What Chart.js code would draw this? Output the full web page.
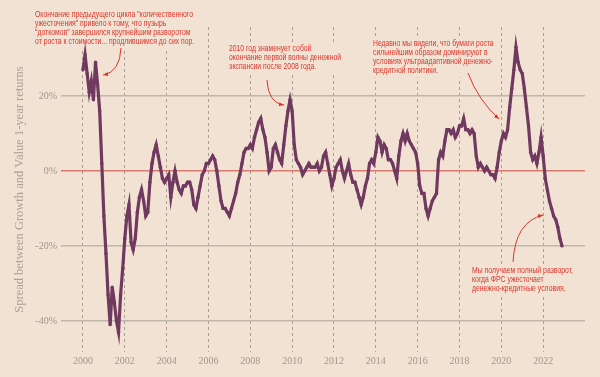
<!DOCTYPE html>
<html>
<head>
<meta charset="utf-8">
<script src="https://cdn.jsdelivr.net/npm/chart.js@4.4.0/dist/chart.umd.min.js"></script>
<style>
html, body { margin: 0; padding: 0; background: #f2e2d3; }
#wrap { width: 600px; height: 377px; }
</style>
</head>
<body>
<div id="wrap"><canvas id="chart_spread"></canvas></div>
<script>
// Growth vs Value spread, every 0.1 year (in %)
var startYear = 2000;
var stepYear = 0.1;
var spread = [
  27, 31, 26, 21, 24, 19, 29, 23, 16, 2,          // 2000
  -12, -22, -33, -41, -31, -35, -40, -43, -33, -26, // 2001
  -18, -12, -9, -19, -21, -18, -11, -7, -5, -8,   // 2002
  -12, -11, -3, 2, 5, 7, 4, 1, -2, -3,            // 2003
  -2, -1, -7, -3, 0, -3, -5, -6, -4, -4,          // 2004
  -3, -3, -5, -9, -10, -7, -4, -1, 0, 2,          // 2005
  2, 3, 4, 3, 0, -4, -8, -10, -10, -11,           // 2006
  -12, -10, -8, -6, -3, -1, 2, 5, 6, 6,           // 2007
  7, 6, 9, 11, 13, 14, 11, 9, 5, 0,               // 2008
  1, 6, 7, 5, 3, 2, 7, 12, 16, 19,                // 2009
  16, 7, 3, 2, 1, -1, 0, 1, 2, 1,                 // 2010
  1, 1, 2, 0, 1, 4, 5, 2, -1, -4,                 // 2011
  -2, 1, 2, 3, 0, -2, 0, 2, -1, -3,               // 2012
  -3, -5, -7, -9, -7, -4, -2, 2, 3, 2,            // 2013
  5, 9, 8, 5, 7, 6, 3, 3, 2, 0,                   // 2014
  -2, 4, 8, 10, 8, 10, 8, 7, 6, 5,                // 2015
  2, -4, -6, -6, -10, -12, -10, -8, -7, -6,       // 2016
  3, 5, 4, 8, 11, 11, 10, 11, 9, 10,              // 2017
  12, 12, 14, 11, 11, 10, 11, 10, 4, 1,           // 2018
  2, 1, 0, 1, 0, -1, -1, -2, 1, 5,                // 2019
  8, 10, 9, 11, 17, 22, 27, 33, 29, 27,           // 2020
  26, 22, 17, 12, 5, 3, 4, 2, 5, 9,               // 2021
  4, -2, -5, -8, -10, -12, -13, -15, -18, -20     // 2022
];

var xTicks = [2000, 2002, 2004, 2006, 2008, 2010, 2012, 2014, 2016, 2018, 2020, 2022];
var yTicks = [-40, -20, 0, 20];

var yTitle = "Spread between Growth and Value 1-year returns";

// annotation texts
var note1 = ['Окончание предыдущего цикла "количественного',
             'ужесточения" привело к тому, что пузырь',
             '"доткомов" завершился крупнейшим разворотом',
             'от роста к стоимости... продлившимся до сих пор.'];
var note2 = ['2010 год знаменует собой',
             'окончание первой волны денежной',
             'экспансии после 2008 года.'];
var note3 = ['Недавно мы видели, что бумаги роста',
             'сильнейшим образом доминируют в',
             'условиях ультраадаптивной денежно-',
             'кредитной политики.'];
var note4 = ['Мы получаем полный разворот,',
             'когда ФРС ужесточает',
             'денежно-кредитные условия.'];

var bgColor = '#f2e2d3';
var redText = '#d8372c';

var points = spread.map(function (v, i) {
  return { x: startYear + i * stepYear, y: v };
});

// where the notes sit on the canvas
var notes = [
  { lines: note1, x: 35, y: 15, fitLine: 0, width: 158, arrow: [121, 48, 120, 72, 103, 75] },
  { lines: note2, x: 229, y: 49, fitLine: 1, width: 112, arrow: [267, 80, 268, 103, 284, 105] },
  { lines: note3, x: 373, y: 44, fitLine: 2, width: 120, arrow: [468, 73, 478, 100, 499, 119] },
  { lines: note4, x: 472, y: 271, fitLine: 0, width: 101, arrow: [513, 262, 515, 222, 543, 215] }
];
var lineGap = 8.8;

var notesPlugin = {
  id: 'notes',
  beforeDatasetsDraw: function (chart) {
    var ctx = chart.ctx;
    ctx.save();
    ctx.font = '9px "Liberation Sans Narrow", "Liberation Sans", Arial, sans-serif';
    notes.forEach(function (n) {
      var w = ctx.measureText(n.lines[n.fitLine]).width;
      var sx = n.width / w;
      var maxW = 0;
      n.lines.forEach(function (l) { maxW = Math.max(maxW, ctx.measureText(l).width * sx); });
      // box hiding the grid under the text
      ctx.fillStyle = bgColor;
      ctx.fillRect(n.x - 3, n.y - 7, maxW + 6, lineGap * (n.lines.length - 1) + 14);
      ctx.fillStyle = redText;
      ctx.textBaseline = 'middle';
      ctx.textAlign = 'left';
      n.lines.forEach(function (l, i) {
        ctx.save();
        ctx.translate(n.x, n.y + i * lineGap);
        ctx.scale(sx, 1);
        ctx.fillText(l, 0, 0);
        ctx.restore();
      });
      // arrow
      var a = n.arrow;
      ctx.strokeStyle = redText;
      ctx.lineWidth = 1;
      ctx.beginPath();
      ctx.moveTo(a[0], a[1]);
      ctx.quadraticCurveTo(a[2], a[3], a[4], a[5]);
      ctx.stroke();
      var ang = Math.atan2(a[5] - a[3], a[4] - a[2]);
      ctx.beginPath();
      ctx.moveTo(a[4], a[5]);
      ctx.lineTo(a[4] - 5 * Math.cos(ang) + 2 * Math.sin(ang), a[5] - 5 * Math.sin(ang) - 2 * Math.cos(ang));
      ctx.lineTo(a[4] - 5 * Math.cos(ang) - 2 * Math.sin(ang), a[5] - 5 * Math.sin(ang) + 2 * Math.cos(ang));
      ctx.closePath();
      ctx.fillStyle = redText;
      ctx.fill();
    });
    ctx.restore();
  }
};

var bgPlugin = {
  id: 'bg',
  beforeDraw: function (chart) {
    var ctx = chart.ctx;
    ctx.save();
    ctx.fillStyle = bgColor;
    ctx.fillRect(0, 0, chart.width, chart.height);
    ctx.restore();
  }
};

var ctxSpread = document.getElementById('chart_spread').getContext('2d');
var ChartSpread = new Chart(ctxSpread, {
  type: 'scatter',
  data: {
    datasets: [{
      label: 'spread',
      data: points,
      showLine: true,
      borderColor: '#70395f',
      borderWidth: 3.2,
      backgroundColor: '#70395f',
      pointRadius: 1.7,
      pointBorderWidth: 0
    }]
  },
  options: {
    responsive: true,
    maintainAspectRatio: false,
    animation: false,
    layout: { padding: { top: 27, right: 15, left: 0, bottom: 0 } },
    plugins: { legend: { display: false }, tooltip: { enabled: false } },
    scales: {
      x: {
        type: 'linear',
        min: 1998.95,
        max: 2024.0,
        afterBuildTicks: function (s) { s.ticks = xTicks.map(function (v) { return { value: v }; }); },
        afterFit: function (s) { s.height = 25; },
        ticks: {
          autoSkip: false,
          maxRotation: 0,
          padding: 3,
          color: '#a0968e',
          font: { family: '"Liberation Serif", serif', size: 10 },
          callback: function (v) { return String(v); }
        },
        grid: { color: '#a89f97', lineWidth: 1, drawTicks: false },
        border: { display: false, dash: [3, 3] }
      },
      y: {
        min: -48.3,
        max: 38.4,
        afterBuildTicks: function (s) { s.ticks = yTicks.map(function (v) { return { value: v }; }); },
        afterFit: function (s) { s.width = 61; },
        ticks: {
          padding: 4,
          color: '#a0968e',
          font: { family: '"Liberation Serif", serif', size: 10 },
          callback: function (v) { return v + '%'; }
        },
        grid: {
          drawTicks: false,
          lineWidth: 1.5,
          color: function (c) { return c.tick && c.tick.value === 0 ? '#d97b70' : '#c0b6ab'; }
        },
        border: { display: false },
        title: {
          display: true,
          text: yTitle,
          color: '#a89f98',
          font: { family: '"Liberation Serif", serif', size: 12.5 },
          padding: { top: 12, bottom: 0 }
        }
      }
    }
  },
  plugins: [bgPlugin, notesPlugin]
});
</script>
</body>
</html>
